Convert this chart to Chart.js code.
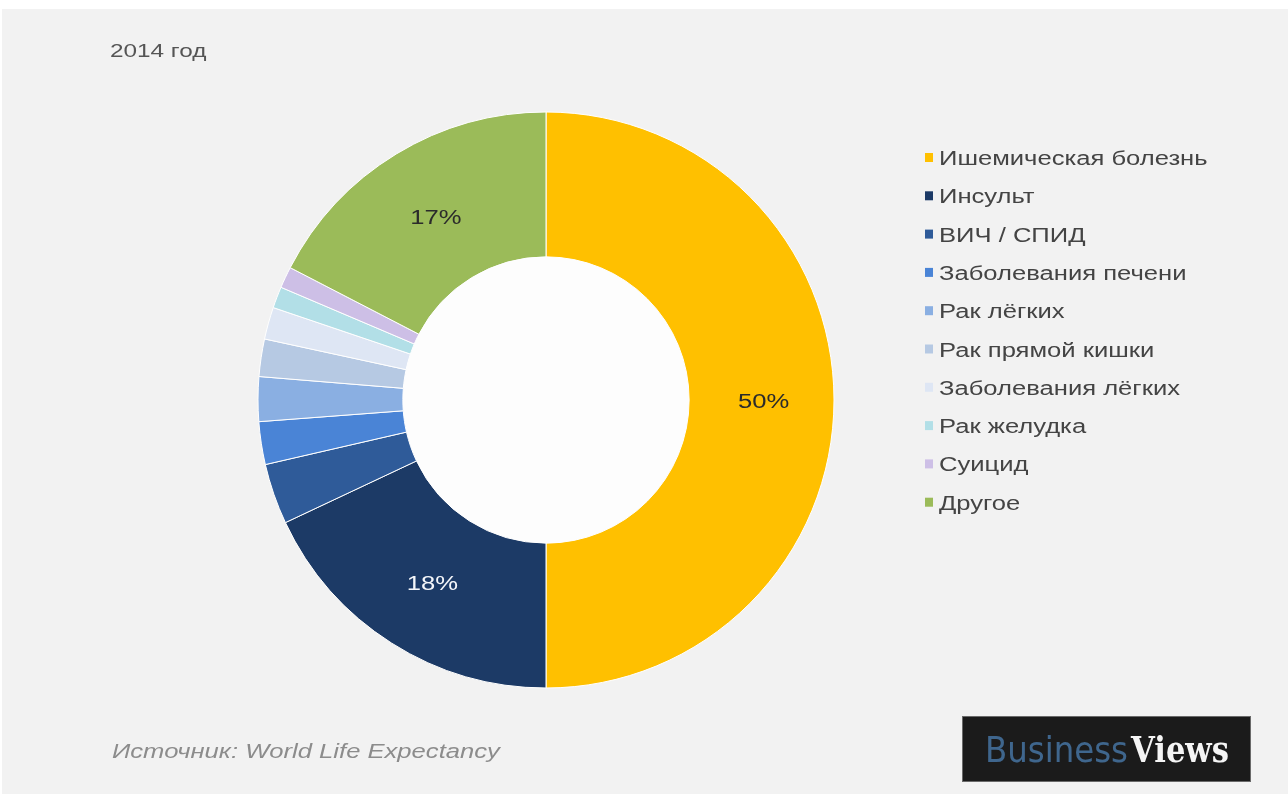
<!DOCTYPE html>
<html lang="ru">
<head>
<meta charset="utf-8">
<title>Причины смертности, 2014 год</title>
<script src="https://cdn.jsdelivr.net/npm/chart.js@4.4.1/dist/chart.umd.min.js"></script>
<style>
  html, body { margin: 0; padding: 0; background: #ffffff; }
  #wrap { position: relative; width: 1288px; height: 794px; }
  canvas { display: block; }
</style>
</head>
<body>
<div id="wrap"><canvas id="chart" width="1288" height="794"></canvas></div>
<script>
// Causes of death, 2014 (share of total, %)
const categories = [
  'Ишемическая болезнь',
  'Инсульт',
  'ВИЧ / СПИД',
  'Заболевания печени',
  'Рак лёгких',
  'Рак прямой кишки',
  'Заболевания лёгких',
  'Рак желудка',
  'Суицид',
  'Другое'
];
const shares = [50, 18, 3.4, 2.4, 2.5, 2.1, 1.8, 1.2, 1.2, 17.4];
const sliceColors = [
  '#FFC000', '#1C3A66', '#2F5B99', '#4A84D6', '#8AAFE2',
  '#B6C9E3', '#DEE6F4', '#B2DFE7', '#CDBFE6', '#9BBB59'
];
const titleText = '2014 год';
const sourceText = 'Источник: World Life Expectancy';
const logoParts = ['Business', 'Views'];

const FONT = '"Liberation Sans", Arial, sans-serif';
const STRETCH = 1.28; // typography in this layout is set wide

// draw text widened horizontally around its anchor
function wideText(ctx, text, x, y, font, color, align, stretch) {
  ctx.save();
  ctx.font = font;
  ctx.fillStyle = color;
  ctx.textBaseline = 'alphabetic';
  const w = ctx.measureText(text).width * stretch;
  let left = x;
  if (align === 'center') left = x - w / 2;
  else if (align === 'right') left = x - w;
  ctx.translate(left, y);
  ctx.scale(stretch, 1);
  ctx.textAlign = 'left';
  ctx.fillText(text, 0, 0);
  ctx.restore();
  return w;
}

// draw text squeezed or stretched to fill a given width
function fitText(ctx, text, x, y, font, color, width) {
  ctx.save();
  ctx.font = font;
  const w = ctx.measureText(text).width;
  ctx.restore();
  return wideText(ctx, text, x, y, font, color, 'left', width / w);
}

function isDark(hex) {
  const n = parseInt(hex.slice(1), 16);
  const r = (n >> 16) & 255, g = (n >> 8) & 255, b = n & 255;
  return (0.299 * r + 0.587 * g + 0.114 * b) < 110;
}

const pagePlugin = {
  id: 'pageDecor',
  beforeDraw(chart) {
    const ctx = chart.ctx;
    ctx.save();
    ctx.fillStyle = '#ffffff';
    ctx.fillRect(0, 0, chart.width, chart.height);
    ctx.fillStyle = '#F2F2F2';
    ctx.fillRect(2, 9, chart.width - 2, chart.height - 9);
    ctx.restore();
  },
  beforeDatasetsDraw(chart) {
    // white hole in the ring
    const meta = chart.getDatasetMeta(0);
    const arc = meta.data[0];
    if (!arc) return;
    const ctx = chart.ctx;
    ctx.save();
    ctx.fillStyle = '#FDFDFD';
    ctx.beginPath();
    ctx.arc(arc.x, arc.y, arc.innerRadius + 1, 0, Math.PI * 2);
    ctx.fill();
    ctx.restore();
  },
  afterDatasetsDraw(chart) {
    const ctx = chart.ctx;
    const meta = chart.getDatasetMeta(0);
    const values = chart.data.datasets[0].data;
    const colors = chart.data.datasets[0].backgroundColor;

    // value labels on the large slices
    meta.data.forEach((arc, i) => {
      if (values[i] < 10) return;
      const p = arc.tooltipPosition();
      const col = isDark(colors[i]) ? '#F4F6FA' : '#2B2B2B';
      wideText(ctx, Math.round(values[i]) + '%', p.x + 2, p.y + 8, '20px ' + FONT, col, 'center', STRETCH);
    });

    // legend
    const lx = 925, ly = 158, step = 38.3;
    chart.data.labels.forEach((lab, i) => {
      const y = ly + i * step;
      ctx.save();
      ctx.fillStyle = colors[i];
      ctx.fillRect(lx, y - 5, 8, 9);
      ctx.restore();
      wideText(ctx, lab, lx + 14, y + 7, '20px ' + FONT, '#444444', 'left', STRETCH);
    });

    // heading and source
    wideText(ctx, titleText, 110, 57, '19px ' + FONT, '#555555', 'left', STRETCH);
    wideText(ctx, sourceText, 112, 758, 'italic 20px ' + FONT, '#8C8C8C', 'left', STRETCH);

    // logo block
    ctx.save();
    ctx.fillStyle = '#1B1B1B';
    ctx.fillRect(962, 716, 289, 66);
    ctx.strokeStyle = '#6A6A6A';
    ctx.lineWidth = 1;
    ctx.strokeRect(962.5, 716.5, 288, 65);
    ctx.restore();
    fitText(ctx, logoParts[0], 985, 762, '36px "DejaVu Sans", sans-serif', '#3F668D', 143);
    fitText(ctx, logoParts[1], 1131, 762, 'bold 35px "DejaVu Serif", serif', '#F5F5F5', 98);
  }
};

new Chart(document.getElementById('chart'), {
  type: 'doughnut',
  data: {
    labels: categories,
    datasets: [{
      data: shares,
      backgroundColor: sliceColors,
      borderColor: '#FFFFFF',
      borderWidth: 1,
      hoverOffset: 0
    }]
  },
  options: {
    responsive: false,
    animation: false,
    cutout: '49.7%',
    radius: 288,
    layout: { padding: { left: 258, right: 454, top: 112, bottom: 106 } },
    plugins: {
      legend: { display: false },
      tooltip: { enabled: false },
      title: { display: false }
    },
    events: []
  },
  plugins: [pagePlugin]
});
</script>
</body>
</html>
